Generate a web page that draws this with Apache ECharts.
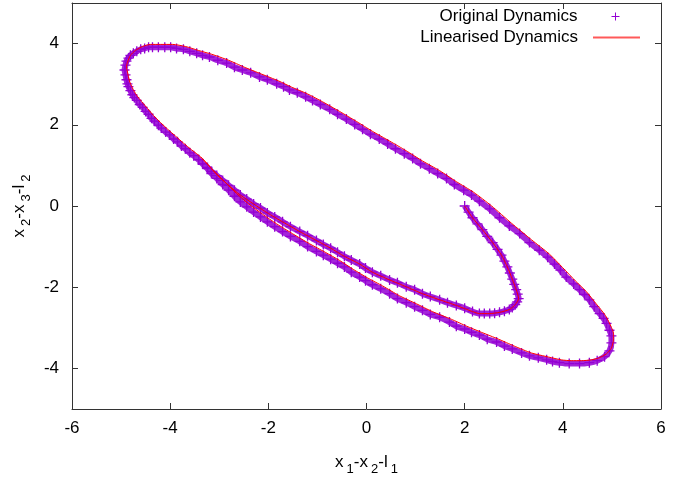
<!DOCTYPE html>
<html>
<head>
<meta charset="utf-8">
<script src="https://cdn.jsdelivr.net/npm/echarts@6/dist/echarts.min.js"></script>
<style>
html,body{margin:0;padding:0;background:#fff;}
#chart{width:681px;height:481px;}
</style>
</head>
<body>
<div id="chart"></div>
<script>
// ---- data ----
const xTicks = [-6, -4, -2, 0, 2, 4, 6];
const yTicks = [-4, -2, 0, 2, 4];
const seriesNames = ['Original Dynamics', 'Linearised Dynamics'];

// Original dynamics (points, in trajectory order)
const originalPts = [
[2.00,0.00],[2.08,-0.15],[2.16,-0.29],[2.26,-0.44],[2.36,-0.58],[2.46,-0.75],[2.57,-0.90],[2.67,-1.07],
[2.75,-1.21],[2.81,-1.36],[2.87,-1.50],[2.92,-1.65],[2.97,-1.80],[3.01,-1.93],[3.05,-2.06],[3.08,-2.17],
[3.10,-2.28],[3.07,-2.36],[3.03,-2.43],[2.97,-2.50],[2.91,-2.55],[2.81,-2.59],[2.71,-2.62],[2.61,-2.64],
[2.51,-2.65],[2.40,-2.65],[2.30,-2.65],[2.16,-2.60],[2.00,-2.52],[1.83,-2.45],[1.65,-2.38],[1.49,-2.31],
[1.30,-2.23],[1.14,-2.16],[0.98,-2.06],[0.81,-1.99],[0.63,-1.89],[0.47,-1.82],[0.29,-1.72],[0.12,-1.63],
[-0.02,-1.53],[-0.14,-1.43],[-0.31,-1.33],[-0.45,-1.24],[-0.59,-1.14],[-0.73,-1.04],[-0.88,-0.95],[-1.02,-0.85],
[-1.20,-0.73],[-1.36,-0.63],[-1.55,-0.51],[-1.71,-0.39],[-1.87,-0.27],[-2.02,-0.17],[-2.16,-0.05],[-2.30,0.05],
[-2.44,0.17],[-2.57,0.27],[-2.69,0.39],[-2.81,0.51],[-2.93,0.63],[-3.05,0.75],[-3.16,0.85],[-3.24,0.95],
[-3.34,1.04],[-3.42,1.14],[-3.52,1.24],[-3.60,1.31],[-3.69,1.41],[-3.77,1.48],[-3.85,1.58],[-3.93,1.65],
[-4.01,1.75],[-4.09,1.82],[-4.18,1.92],[-4.24,1.99],[-4.32,2.09],[-4.38,2.16],[-4.44,2.26],[-4.50,2.33],
[-4.56,2.43],[-4.62,2.50],[-4.68,2.60],[-4.73,2.67],[-4.77,2.74],[-4.81,2.84],[-4.85,2.94],[-4.87,3.01],
[-4.89,3.11],[-4.91,3.23],[-4.93,3.35],
[-4.91,3.47],[-4.89,3.57],[-4.85,3.64],[-4.81,3.71],[-4.75,3.76],[-4.68,3.81],[-4.60,3.86],[-4.52,3.88],
[-4.44,3.91],[-4.36,3.91],[-4.24,3.91],[-4.11,3.91],[-3.99,3.91],[-3.87,3.88],[-3.73,3.86],[-3.60,3.81],
[-3.46,3.76],[-3.34,3.71],[-3.20,3.67],[-3.03,3.59],[-2.85,3.52],[-2.69,3.42],[-2.53,3.35],[-2.36,3.28],
[-2.18,3.18],[-2.02,3.11],[-1.83,3.01],[-1.69,2.94],[-1.57,2.86],[-1.41,2.79],[-1.24,2.69],[-1.10,2.60],
[-0.94,2.50],[-0.75,2.38],[-0.59,2.26],[-0.41,2.14],[-0.24,2.01],[-0.08,1.89],[0.08,1.77],[0.26,1.65],
[0.43,1.53],[0.59,1.41],[0.77,1.29],[0.94,1.17],[1.10,1.04],[1.28,0.92],[1.45,0.80],[1.63,0.68],
[1.79,0.53],[1.98,0.39],[2.14,0.27],[2.30,0.12],[2.51,-0.07],[2.71,-0.29],[2.91,-0.49],[3.12,-0.68],
[3.32,-0.90],[3.52,-1.09],[3.69,-1.26],[3.83,-1.43],[3.95,-1.58],[4.07,-1.75],[4.22,-1.92],[4.34,-2.06],
[4.44,-2.18],[4.54,-2.31],[4.64,-2.48],[4.75,-2.65],[4.83,-2.77],[4.89,-2.89],[4.95,-3.06],[4.99,-3.20],
[4.99,-3.37],[4.95,-3.57],[4.85,-3.71],[4.70,-3.81],[4.54,-3.86],[4.34,-3.88],[4.13,-3.88],[3.93,-3.86],
[3.79,-3.83],[3.67,-3.79],[3.50,-3.74],[3.32,-3.69],[3.16,-3.62],[2.97,-3.52],[2.81,-3.45],[2.65,-3.35],
[2.46,-3.28],[2.30,-3.18],[2.14,-3.11],[2.00,-3.03],[1.83,-2.96],[1.69,-2.86],[1.49,-2.74],[1.30,-2.67],
[1.14,-2.57],[0.98,-2.48],[0.81,-2.38],[0.63,-2.28],[0.47,-2.16],[0.29,-2.04],[0.12,-1.94],[-0.02,-1.84],
[-0.14,-1.75],[-0.31,-1.63],[-0.45,-1.50],[-0.59,-1.41],[-0.73,-1.31],[-0.88,-1.21],[-1.02,-1.12],[-1.20,-1.00],
[-1.36,-0.87],[-1.55,-0.75],[-1.71,-0.63],[-1.87,-0.51],[-2.02,-0.39],[-2.16,-0.27],[-2.30,-0.15],[-2.44,-0.02],
[-2.57,0.10],[-2.69,0.24],[-2.81,0.39],[-2.93,0.53],[-3.05,0.68],[-3.16,0.80],[-3.24,0.92],[-3.34,1.04],
[-3.42,1.14]
];

// Linearised dynamics (line, in trajectory order)
const linearisedPts = [
[2.00,0.00],[2.16,-0.29],[2.36,-0.58],[2.57,-0.90],[2.75,-1.21],[2.87,-1.50],[2.97,-1.80],[3.05,-2.06],
[3.10,-2.28],[3.03,-2.43],[2.91,-2.55],[2.71,-2.62],[2.51,-2.65],[2.30,-2.65],[2.16,-2.60],[1.83,-2.45],
[1.49,-2.31],[1.14,-2.16],[0.81,-1.99],[0.47,-1.82],[0.12,-1.63],[-0.14,-1.43],[-0.45,-1.24],[-0.73,-1.04],
[-1.02,-0.85],[-1.36,-0.63],[-1.71,-0.39],[-2.02,-0.17],[-2.30,0.05],[-2.57,0.27],[-2.81,0.51],[-3.03,0.75],
[-3.20,0.98],[-3.38,1.21],[-3.56,1.38],[-3.73,1.55],[-3.89,1.72],[-4.05,1.89],[-4.20,2.06],[-4.34,2.23],
[-4.46,2.40],[-4.58,2.57],[-4.69,2.74],[-4.77,2.91],[-4.83,3.08],[-4.87,3.30],[-4.89,3.42],[-4.87,3.54],
[-4.81,3.71],[-4.71,3.83],[-4.56,3.93],[-4.40,3.98],[-4.20,3.98],[-3.95,3.98],[-3.69,3.93],[-3.42,3.83],
[-3.16,3.74],[-2.81,3.59],[-2.49,3.42],[-2.14,3.25],[-1.79,3.08],[-1.53,2.93],[-1.20,2.76],[-0.90,2.57],
[-0.55,2.33],[-0.20,2.08],[0.12,1.84],[0.47,1.60],[0.81,1.36],[1.14,1.11],[1.49,0.87],[1.83,0.60],
[2.18,0.34],[2.55,0.00],[2.95,-0.42],[3.36,-0.83],[3.73,-1.19],[3.99,-1.51],[4.26,-1.85],[4.48,-2.11],
[4.68,-2.41],[4.87,-2.70],[4.99,-2.99],[5.03,-3.13],[5.03,-3.30],[4.99,-3.50],[4.89,-3.64],[4.74,-3.74],
[4.58,-3.79],[4.38,-3.81],[4.17,-3.81],[3.97,-3.79],[3.71,-3.72],[3.36,-3.62],[3.01,-3.45],[2.69,-3.28],
[2.34,-3.11],[2.04,-2.96],[1.73,-2.79],[1.34,-2.60],[1.02,-2.41],[0.67,-2.21],[0.33,-1.97],[0.02,-1.77],
[-0.27,-1.56],[-0.55,-1.34],[-0.84,-1.14],[-1.16,-0.93],[-1.51,-0.68],[-1.83,-0.44],[-2.12,-0.20],[-2.40,0.05],
[-2.65,0.31],[-2.89,0.60],[-3.12,0.87],[-3.30,1.11],[-3.38,1.21]
];

// ---- chart ----
const PURPLE = '#9400d3';
const RED = '#ff0000';
const FRAME = '#333333';
const FONT = 'Liberation Sans, Arial, sans-serif';
const plusPath = 'path://M5 0L5 10M0 5L10 5';

const chart = echarts.init(document.getElementById('chart'), null, {renderer: 'canvas'});

const nameRich = {
  a: {fontSize: 17, fontFamily: FONT, color: '#000', lineHeight: 17, verticalAlign: 'top'},
  b: {fontSize: 13, fontFamily: FONT, color: '#000', lineHeight: 22, verticalAlign: 'bottom', padding: [0, 0, 0, 3]}
};

const tickCommon = {show: true, inside: true, length: 6, lineStyle: {color: FRAME, width: 1}};
const lineCommon = {show: true, onZero: false, lineStyle: {color: FRAME, width: 1}};

chart.setOption({
  animation: false,
  backgroundColor: '#ffffff',
  textStyle: {fontFamily: FONT},
  grid: {left: 72, right: 20, top: 3, bottom: 67, containLabel: false},
  legend: [
    {
      data: [seriesNames[0]],
      right: 56, top: 3, orient: 'vertical', align: 'right',
      itemWidth: 8, itemHeight: 8, padding: 5,
      icon: plusPath,
      itemStyle: {color: 'rgba(0,0,0,0)', borderColor: PURPLE, borderWidth: 1},
      textStyle: {fontSize: 17, color: '#000', fontFamily: FONT, padding: [0, 29, 0, 0]}
    },
    {
      data: [seriesNames[1]],
      right: 36, top: 24, orient: 'vertical', align: 'right',
      itemWidth: 47, itemHeight: 2, padding: 5,
      icon: 'path://M0 0H47V2H0Z',
      itemStyle: {color: '#ff3030', borderColor: '#ff3030', borderWidth: 0, opacity: 0.8},
      lineStyle: {color: RED},
      textStyle: {fontSize: 17, color: '#000', fontFamily: FONT, padding: [0, 10, 0, 0]}
    }
  ],
  xAxis: [
    {
      type: 'value', min: xTicks[0], max: xTicks[xTicks.length - 1], interval: 2,
      position: 'bottom',
      axisLine: lineCommon, axisTick: tickCommon,
      axisLabel: {show: true, margin: 11, fontSize: 17, color: '#000', fontFamily: FONT,
        customValues: xTicks},
      splitLine: {show: false},
      name: '{a|x}{b|1}{a|-x}{b|2}{a|-l}{b|1}',
      nameLocation: 'middle', nameGap: 45,
      nameTextStyle: {rich: nameRich}
    },
    {
      type: 'value', min: xTicks[0], max: xTicks[xTicks.length - 1], interval: 2,
      position: 'top',
      axisLine: lineCommon, axisTick: tickCommon,
      axisLabel: {show: false}, splitLine: {show: false}
    }
  ],
  yAxis: [
    {
      type: 'value', min: -5, max: 5, interval: 1,
      position: 'left',
      axisLine: lineCommon,
      axisTick: Object.assign({}, tickCommon, {customValues: yTicks}),
      axisLabel: {show: true, margin: 13, fontSize: 17, color: '#000', fontFamily: FONT,
        customValues: yTicks},
      splitLine: {show: false},
      name: '{a|x}{b|2}{a|-x}{b|3}{a|-l}{b|2}',
      nameLocation: 'middle', nameGap: 38, nameRotate: 90,
      nameTextStyle: {rich: nameRich}
    },
    {
      type: 'value', min: -5, max: 5, interval: 1,
      position: 'right',
      axisLine: lineCommon,
      axisTick: Object.assign({}, tickCommon, {customValues: yTicks}),
      axisLabel: {show: false}, splitLine: {show: false}
    }
  ],
  series: [
    {
      name: seriesNames[0],
      type: 'line',
      xAxisIndex: 0, yAxisIndex: 0,
      data: originalPts,
      showSymbol: true, showAllSymbol: true,
      symbol: plusPath, symbolSize: 10,
      itemStyle: {color: 'rgba(0,0,0,0)', borderColor: PURPLE, borderWidth: 1.3},
      lineStyle: {color: PURPLE, width: 6, opacity: 0.85},
      smooth: 0.2,
      z: 2,
      emphasis: {disabled: true}
    },
    {
      name: seriesNames[1],
      type: 'line',
      xAxisIndex: 0, yAxisIndex: 0,
      data: linearisedPts,
      showSymbol: false,
      itemStyle: {color: RED},
      lineStyle: {color: RED, width: 1},
      smooth: 0.2,
      z: 3,
      emphasis: {disabled: true}
    }
  ]
});
</script>
</body>
</html>
